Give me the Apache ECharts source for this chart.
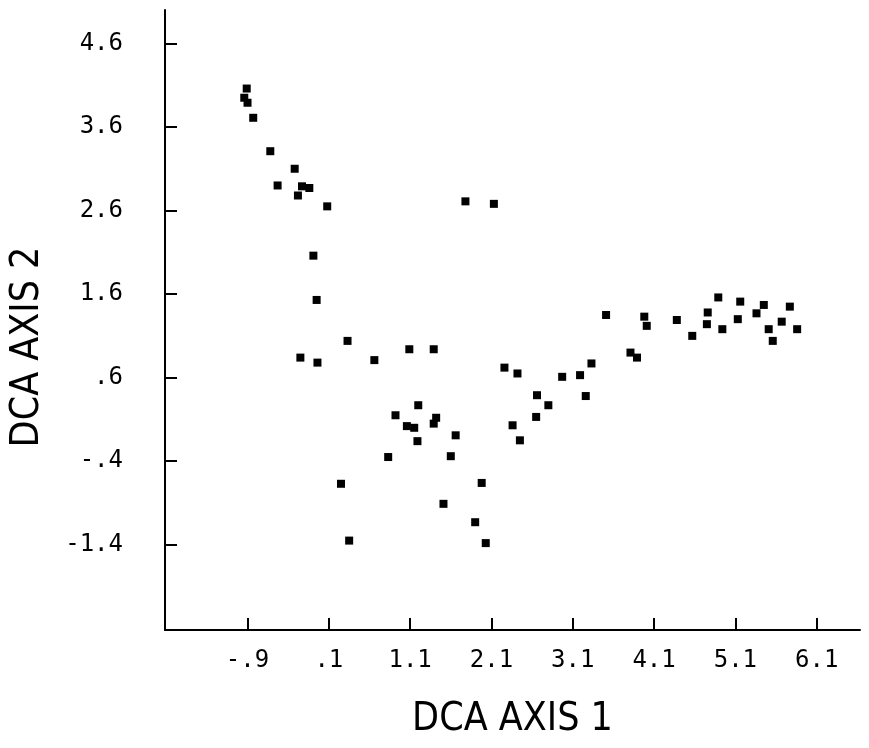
<!DOCTYPE html>
<html>
<head>
<meta charset="utf-8">
<script src="https://cdn.jsdelivr.net/npm/echarts@6/dist/echarts.min.js"></script>
<style>html,body{margin:0;padding:0;background:#fff}#c{width:869px;height:748px}</style>
</head>
<body>
<div id="c"></div>
<script>
// DCA axis 1 scores
var axis1 = [-0.91,-0.94,-0.90,-0.83,-0.62,-0.32,-0.53,-0.23,-0.14,-0.28,0.08,-0.09,-0.05,0.33,-0.25,-0.04,0.66,1.09,1.39,1.78,2.13,2.26,2.42,2.97,3.19,3.33,2.66,3.26,2.80,2.65,2.36,2.45,3.51,3.98,4.01,4.38,3.81,3.89,4.57,4.75,4.76,4.89,4.94,5.16,5.13,5.36,5.45,5.77,5.67,5.51,5.56,5.86,0.92,1.20,1.06,1.15,1.19,0.83,1.42,1.39,1.66,1.60,0.25,0.35,1.98,1.51,1.90,2.03];
// DCA axis 2 scores
var axis2 = [4.06,3.95,3.89,3.71,3.31,3.10,2.90,2.89,2.87,2.78,2.65,2.06,1.53,1.04,0.84,0.78,0.81,0.94,0.94,2.71,2.68,0.72,0.65,0.61,0.63,0.77,0.39,0.38,0.27,0.13,0.03,-0.15,1.35,1.33,1.22,1.29,0.90,0.84,1.10,1.24,1.38,1.56,1.18,1.51,1.30,1.37,1.47,1.45,1.27,1.18,1.04,1.18,0.15,0.27,0.02,0.00,-0.16,-0.35,0.12,0.05,-0.09,-0.34,-0.67,-1.35,-0.66,-0.91,-1.13,-1.38];
var xTicks = [-0.9,0.1,1.1,2.1,3.1,4.1,5.1,6.1];
var yTicks = [-1.4,-0.4,0.6,1.6,2.6,3.6,4.6];
var xName = 'DCA AXIS 1';
var yName = 'DCA AXIS 2';

function fmt(v){
  var s = (Math.round(v*10)/10).toFixed(1);
  return s.replace(/^0\./,'.').replace(/^-0\./,'-.');
}
var pts = axis1.map(function(x,i){return [x, axis2[i]];});
var chart = echarts.init(document.getElementById('c'), null, {renderer:'canvas'});
var mono = 'DejaVu Sans Mono';
chart.setOption({
  animation:false,
  backgroundColor:'#fff',
  grid:{left:165, right:9, top:10, bottom:118, containLabel:false},
  xAxis:{
    type:'value', min:-1.915, max:6.633,
    splitLine:{show:false},
    axisLine:{onZero:false, lineStyle:{color:'#000', width:2}},
    axisTick:{inside:true, length:12, lineStyle:{color:'#000', width:2}, customValues:xTicks},
    axisLabel:{customValues:xTicks, formatter:fmt, color:'#000', fontFamily:mono, fontSize:24, margin:19},
    name:xName, nameLocation:'middle', nameGap:70,
    nameTextStyle:{color:'#000', fontFamily:'DejaVu Sans Condensed', fontSize:39}
  },
  yAxis:{
    type:'value', min:-2.42, max:5.0,
    splitLine:{show:false},
    axisLine:{onZero:false, lineStyle:{color:'#000', width:2}},
    axisTick:{inside:true, length:12, lineStyle:{color:'#000', width:2}, customValues:yTicks},
    axisLabel:{customValues:yTicks, formatter:fmt, color:'#000', fontFamily:mono, fontSize:24, margin:42}
  },
  graphic:[{
    type:'text', x:28, y:347, rotation:Math.PI/2,
    style:{text:yName, fill:'#000', font:'39px "DejaVu Sans Condensed"', textAlign:'center', textVerticalAlign:'middle'}
  }],
  series:[{
    type:'scatter', data:pts, symbol:'rect', symbolSize:8,
    itemStyle:{color:'#000', opacity:1}
  }]
});
</script>
</body>
</html>
